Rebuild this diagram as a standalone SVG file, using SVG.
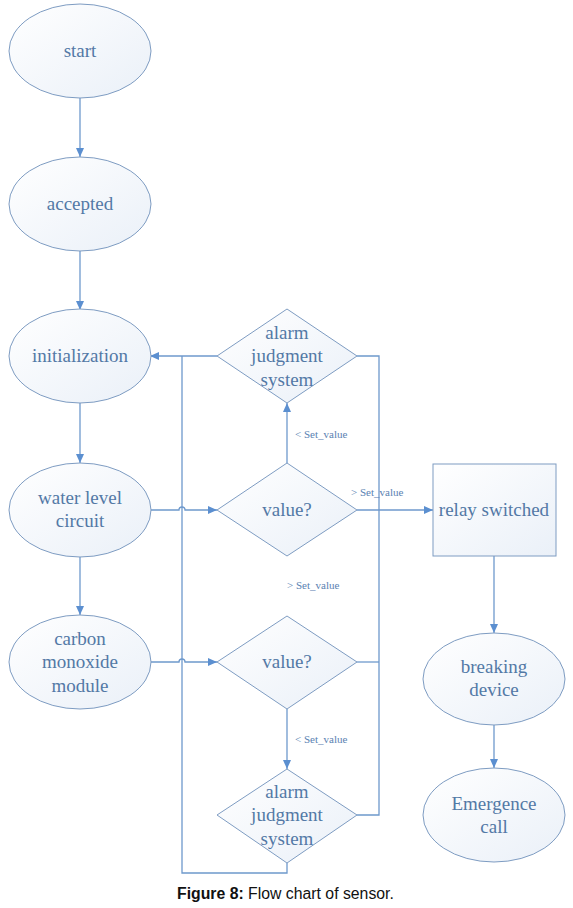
<svg xmlns="http://www.w3.org/2000/svg" width="573" height="908" viewBox="0 0 573 908">
<style>
.shape{fill:url(#g);stroke:#7e9cc2;stroke-width:1}
.t{font-family:"Liberation Serif","Times New Roman",serif;font-size:19px;fill:#5379a6;text-anchor:middle}
.lbl{font-family:"Liberation Serif","Times New Roman",serif;font-size:11px;fill:#5a82b2}
.c{fill:none;stroke:#6e99cc;stroke-width:1.3}
.cap{font-family:"Liberation Sans",Arial,sans-serif;font-size:15.8px;fill:#111}
</style>
<defs>
<linearGradient id="g" x1="0" y1="0" x2="1" y2="1">
<stop offset="0" stop-color="#ffffff"/>
<stop offset="1" stop-color="#eaf0f8"/>
</linearGradient>
<marker id="a" markerWidth="10" markerHeight="8" refX="9" refY="4" orient="auto" markerUnits="userSpaceOnUse">
<path d="M0,0 L9,4 L0,8 Z" fill="#5b8fd0"/>
</marker>
</defs>
<rect width="573" height="908" fill="#fff"/>
<g id="connectors">
<path class="c" d="M80,98 V157" marker-end="url(#a)"/>
<path class="c" d="M80,250 V310" marker-end="url(#a)"/>
<path class="c" d="M80,403 V463" marker-end="url(#a)"/>
<path class="c" d="M80,557 V615" marker-end="url(#a)"/>
<path class="c" d="M217,356 H150" marker-end="url(#a)"/>
<path class="c" d="M287,863 V873 H182 V356"/>
<path class="c" d="M357,356 H379 V815 H357"/>
<path class="c" d="M357,662 H379"/>
<path class="c" d="M150,510 H179 A3,3 0 0 1 185,510 H217" marker-end="url(#a)"/>
<path class="c" d="M150,662 H179 A3,3 0 0 1 185,662 H217" marker-end="url(#a)"/>
<path class="c" d="M357,510 H433" marker-end="url(#a)"/>
<path class="c" d="M287,463 V403" marker-end="url(#a)"/>
<path class="c" d="M287,709 V769" marker-end="url(#a)"/>
<path class="c" d="M494,556 V633" marker-end="url(#a)"/>
<path class="c" d="M494,725 V768" marker-end="url(#a)"/>
<text class="lbl" x="295" y="438">&lt; Set_value</text>
<text class="lbl" x="351" y="496">&gt; Set_value</text>
<text class="lbl" x="287" y="589">&gt; Set_value</text>
<text class="lbl" x="295" y="743">&lt; Set_value</text>
</g>
<g id="start"><ellipse class="shape" cx="80" cy="51" rx="71" ry="47"/><text class="t" x="80" y="57">start</text></g>
<g id="accepted"><ellipse class="shape" cx="80" cy="204" rx="71" ry="47"/><text class="t" x="80" y="210">accepted</text></g>
<g id="initialization"><ellipse class="shape" cx="80" cy="356" rx="71" ry="47"/><text class="t" x="80" y="362">initialization</text></g>
<g id="water"><ellipse class="shape" cx="80" cy="510" rx="71" ry="47"/><text class="t" x="80" y="504">water level</text><text class="t" x="80" y="527">circuit</text></g>
<g id="carbon"><ellipse class="shape" cx="80" cy="662" rx="71" ry="47"/><text class="t" x="80" y="645">carbon</text><text class="t" x="80" y="668">monoxide</text><text class="t" x="80" y="692">module</text></g>
<g id="alarm1"><polygon class="shape" points="287,309 357,356 287,403 217,356"/><text class="t" x="287" y="339">alarm</text><text class="t" x="287" y="362">judgment</text><text class="t" x="287" y="386">system</text></g>
<g id="value1"><polygon class="shape" points="287,463 357,510 287,556 217,510"/><text class="t" x="287" y="516">value?</text></g>
<g id="value2"><polygon class="shape" points="287,616 357,662 287,709 217,662"/><text class="t" x="287" y="668">value?</text></g>
<g id="alarm2"><polygon class="shape" points="287,769 357,815 287,863 217,815"/><text class="t" x="287" y="798">alarm</text><text class="t" x="287" y="821">judgment</text><text class="t" x="287" y="845">system</text></g>
<g id="relay"><rect class="shape" x="433" y="464" width="123" height="92"/><text class="t" x="494" y="516">relay switched</text></g>
<g id="breaking"><ellipse class="shape" cx="494" cy="679" rx="71" ry="46"/><text class="t" x="494" y="673">breaking</text><text class="t" x="494" y="696">device</text></g>
<g id="emergence"><ellipse class="shape" cx="494" cy="815" rx="71" ry="47"/><text class="t" x="494" y="810">Emergence</text><text class="t" x="494" y="833">call</text></g>
<text class="cap" x="177" y="899"><tspan font-weight="bold">Figure 8:</tspan> Flow chart of sensor.</text>
</svg>
